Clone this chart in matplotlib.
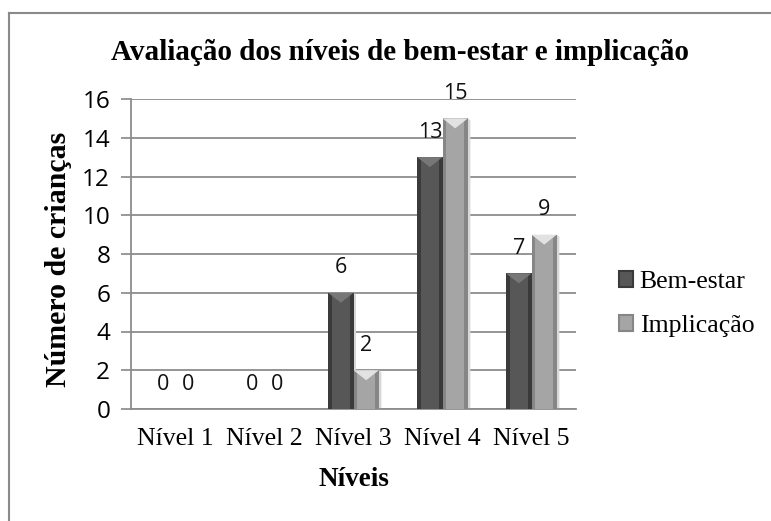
import matplotlib
matplotlib.use("Agg")
import matplotlib.pyplot as plt
import numpy as np
from matplotlib.patches import Polygon, Patch
from matplotlib.lines import Line2D

categories = ["Nível 1", "Nível 2", "Nível 3", "Nível 4", "Nível 5"]
bem_estar = [0, 0, 6, 13, 7]
implicacao = [0, 0, 2, 15, 9]
series_names = ["Bem-estar", "Implicação"]
yticks = [0, 2, 4, 6, 8, 10, 12, 14, 16]

W, H = 771, 521
fig = plt.figure(figsize=(W / 100, H / 100), dpi=100)
AX_L, AX_R, AX_T, AX_B = 131, 576, 99, 409
ax = fig.add_axes([AX_L / W, 1 - AX_B / H, (AX_R - AX_L) / W, (AX_B - AX_T) / H])

serif = "Liberation Serif"
sans = "Open Sans"

x = np.arange(len(categories))
bw = 0.285
styles = [
    dict(body="#575757", edge="#3a3a3a", top="#777777"),
    dict(body="#a5a5a5", edge="#868686", top="#e2e2e2"),
]
data = [bem_estar, implicacao]
containers = []
for i, (vals, st) in enumerate(zip(data, styles)):
    c = ax.bar(x + (i - 0.5) * bw, vals, bw, color=st["body"], edgecolor="none", zorder=3)
    containers.append(c)

px_x = 1.0 / ((AX_R - AX_L) / len(categories))
px_y = 16.0 / (AX_B - AX_T)
for c, st in zip(containers, styles):
    for p in c.patches:
        x0, y0 = p.get_x(), p.get_y()
        w, h = p.get_width(), p.get_height()
        if h <= 0:
            continue
        bev = 3.5 * px_x
        ax.add_patch(Polygon([[x0, y0], [x0 + bev, y0], [x0 + bev, y0 + h], [x0, y0 + h]],
                             closed=True, color=st["edge"], lw=0, zorder=4))
        ax.add_patch(Polygon([[x0 + w - bev, y0], [x0 + w, y0], [x0 + w, y0 + h], [x0 + w - bev, y0 + h]],
                             closed=True, color=st["edge"], lw=0, zorder=4))
        th = min(10 * px_y, h)
        ax.add_patch(Polygon([[x0, y0 + h], [x0 + w, y0 + h], [x0 + w / 2, y0 + h - th]],
                             closed=True, color=st["top"], lw=0, zorder=5))
        ax.add_patch(Polygon([[x0 + w, y0], [x0 + w + 2.5 * px_x, y0], [x0 + w + 2.5 * px_x, y0 + h - 2 * px_y], [x0 + w, y0 + h]],
                             closed=True, color="#d8d8d8", lw=0, zorder=2))

for c, vals in zip(containers, data):
    for p, v in zip(c.patches, vals):
        ax.annotate(f"{v}", (p.get_x() + p.get_width() / 2, p.get_height()),
                    xytext=(0, 18), textcoords="offset points", ha="center", va="center",
                    fontsize=15.5, family=sans, color="#111111", zorder=6)

ax.set_xlim(-0.5, len(categories) - 0.5)
ax.set_ylim(0, 16)
ax.set_yticks(yticks)
ax.set_yticklabels([str(t) for t in yticks], family=sans, fontsize=17.5)
ax.set_xticks(x)
ax.set_xticklabels(categories, family=serif, fontsize=18.5)
ax.tick_params(axis="x", length=0, pad=14)
ax.tick_params(axis="y", length=7, width=1.2, color="#888888", pad=8)
ax.yaxis.grid(True, color="#8c8c8c", lw=1.3, zorder=0)
ax.set_axisbelow(True)
for s in ["top", "right"]:
    ax.spines[s].set_visible(False)
for s in ["left", "bottom"]:
    ax.spines[s].set_color("#8c8c8c")
    ax.spines[s].set_linewidth(1.3)

fig.text((AX_L + AX_R) / 2 / W, 1 - 480 / H, "Níveis", family=serif, fontsize=19.5,
         fontweight="bold", ha="center", va="center")
fig.text(58 / W, 1 - 259 / H, "Número de crianças", family=serif, fontsize=21.5,
         fontweight="bold", ha="center", va="center", rotation=90)
fig.text(400 / W, 1 - 52 / H, "Avaliação dos níveis de bem-estar e implicação",
         family=serif, fontsize=21, fontweight="bold", ha="center", va="center")

handles = [Patch(facecolor=st["body"], edgecolor=st["edge"], lw=1.5) for st in styles]
leg = fig.legend(handles, series_names, loc="center left", bbox_to_anchor=(596 / W, 1 - 304 / H),
                 frameon=False, prop=dict(family=serif, size=18.5), handlelength=0.55,
                 handleheight=0.55, handletextpad=0.25, labelspacing=0.85)

fig.add_artist(Line2D([8.5 / W, 1], [1 - 12.5 / H, 1 - 12.5 / H], transform=fig.transFigure,
                      color="#8a8a8a", lw=1.5))
fig.add_artist(Line2D([8.5 / W, 8.5 / W], [0, 1 - 12.5 / H], transform=fig.transFigure,
                      color="#8a8a8a", lw=1.5))

fig.savefig("out.png", dpi=100, facecolor="white")
